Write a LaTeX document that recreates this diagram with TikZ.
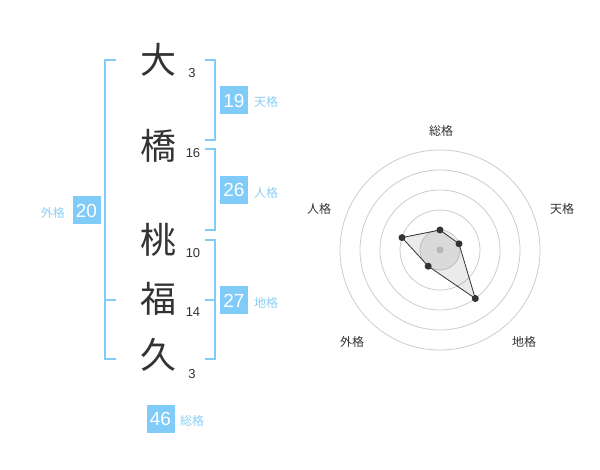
\documentclass[tikz,border=0pt]{standalone}
\usepackage{fontspec}
\setmainfont{Liberation Sans}
\newfontfamily\jp{Noto Sans CJK JP}
\definecolor{kblue}{HTML}{80CBF8}
\definecolor{ktext}{HTML}{8ACFF5}
\definecolor{kdark}{HTML}{333333}
\definecolor{kring}{HTML}{CCCCCC}
\begin{document}
\begin{tikzpicture}[x=1pt,y=-1pt,
  bigchar/.style={font=\jp\fontsize{36}{36}\selectfont, text=kdark, inner sep=0pt},
  stroke/.style={font=\fontsize{13}{13}\selectfont, text=kdark, inner sep=0pt},
  valbox/.style={fill=kblue, text=white, minimum width=28pt, minimum height=28pt, inner sep=0pt, font=\fontsize{19}{19}\selectfont},
  vallabel/.style={font=\jp\fontsize{12}{12}\selectfont, text=ktext, inner sep=0pt},
  bracket/.style={draw=kblue, line width=2pt},
  ring/.style={draw=kring, line width=0.8pt},
  axislabel/.style={font=\jp\fontsize{12}{12}\selectfont, text=kdark, inner sep=0pt},
  vdot/.style={circle, fill=kdark, minimum size=7pt, inner sep=0pt}]
\useasboundingbox (0,0) rectangle (600,470);
% characters
\node[bigchar] (c1) at (158,60) {大};
\node[bigchar] (c2) at (158,146) {橋};
\node[bigchar] (c3) at (158,240) {桃};
\node[bigchar] (c4) at (158,299) {福};
\node[bigchar] (c5) at (158,355) {久};
\node[stroke] (n1) at (192,73) {3};
\node[stroke] (n2) at (193,153) {16};
\node[stroke] (n3) at (193,253) {10};
\node[stroke] (n4) at (193,312) {14};
\node[stroke] (n5) at (192,374) {3};
% brackets
\draw[bracket] (116,60) -- (105,60) -- (105,359) -- (116,359);
\draw[bracket] (105,300) -- (116,300);
\draw[bracket] (205,60) -- (215,60) -- (215,140) -- (205,140);
\draw[bracket] (205,149) -- (215,149) -- (215,230) -- (205,230);
\draw[bracket] (205,240) -- (215,240) -- (215,359) -- (205,359);
\draw[bracket] (205,300) -- (215,300);
% value boxes
\node[valbox] (v19) at (234,100.5) {19};
\node[vallabel, anchor=west] (l19) at (254,102) {天格};
\node[valbox] (v26) at (234,190) {26};
\node[vallabel, anchor=west] (l26) at (254,193) {人格};
\node[valbox] (v20) at (86.5,210.5) {20};
\node[vallabel, anchor=east] (l20) at (65,213) {外格};
\node[valbox] (v27) at (234,300.5) {27};
\node[vallabel, anchor=west] (l27) at (254,303) {地格};
\node[valbox] (v46) at (160.5,419) {46};
\node[vallabel, anchor=west] (l46) at (180,421) {総格};
% radar
\coordinate (o) at (440,250);
\fill[fill=black!7] (o) circle (20);
\foreach \r in {20,40,60,80,100} \draw[ring] (o) circle (\r);
\node[circle, fill=black!22, minimum size=7pt, inner sep=0pt] (oc) at (o) {};
\node[axislabel] (a1) at (441,131) {総格};
\node[axislabel] (a2) at (562,209) {天格};
\node[axislabel] (a3) at (524,342) {地格};
\node[axislabel] (a4) at (352,342) {外格};
\node[axislabel] (a5) at (319,209) {人格};
\coordinate (p1) at (440,230);
\coordinate (p2) at (459.0,243.8);
\coordinate (p3) at (475.3,298.5);
\coordinate (p4) at (428.2,266.2);
\coordinate (p5) at (402.0,237.6);
\fill[black, fill opacity=0.08] (p1) -- (p2) -- (p3) -- (p4) -- (p5) -- cycle;
\draw[kdark, line width=0.8pt] (p1) -- (p2) -- (p3) -- (p4) -- (p5) -- cycle;
\foreach \p in {p1,p2,p3,p4,p5} \node[vdot] at (\p) {};
\end{tikzpicture}
\end{document}
